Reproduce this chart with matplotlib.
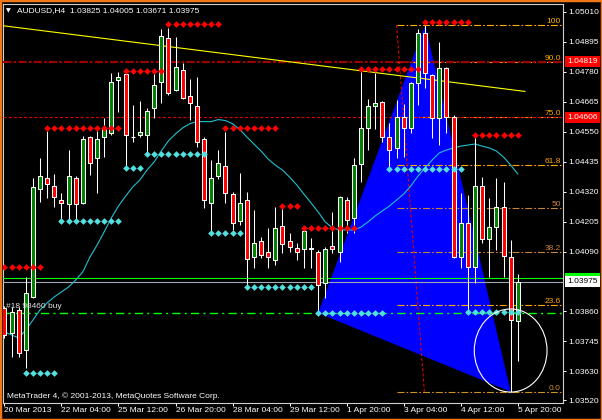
import matplotlib
matplotlib.use("Agg")
import matplotlib.pyplot as plt
from matplotlib.patches import Rectangle, Polygon, Ellipse
from matplotlib import transforms

plt.rcParams['lines.scale_dashes'] = False
FONT = ['Liberation Sans', 'DejaVu Sans']

# ---------------- data (AUDUSD H4) ----------------
OPEN = [1.03873, 1.03777, 1.03866, 1.03712, 1.03916, 1.04330, 1.04373, 1.04342, 1.04288, 1.04273,
        1.04373, 1.04277, 1.04530, 1.04449, 1.04530, 1.04546, 1.04749, 1.04772, 1.04530, 1.04538,
        1.04538, 1.04641, 1.04741, 1.04910, 1.04710, 1.04787, 1.04687, 1.04649, 1.04523, 1.04277,
        1.04380, 1.04419, 1.04311, 1.04207, 1.04288, 1.04069, 1.04131, 1.04088, 1.04058, 1.04188,
        1.04131, 1.04104, 1.04100, 1.04104, 1.04088, 1.03969, 1.04111, 1.04088, 1.04288, 1.04219,
        1.04426, 1.04565, 1.04649, 1.04664, 1.04530, 1.04488, 1.04608, 1.04565, 1.04737, 1.04929,
        1.04768, 1.04601, 1.04795, 1.04608, 1.04069, 1.04200, 1.04031, 1.04342, 1.04138, 1.04184,
        1.04261, 1.04069, 1.03825]
HIGH = [1.03881, 1.03877, 1.03877, 1.03992, 1.04373, 1.04449, 1.04553, 1.04388, 1.04315, 1.04480,
        1.04380, 1.04534, 1.04534, 1.04553, 1.04601, 1.04776, 1.04780, 1.04787, 1.04653, 1.04668,
        1.04641, 1.04776, 1.04945, 1.04949, 1.04914, 1.04814, 1.04753, 1.04760, 1.04530, 1.04442,
        1.04480, 1.04550, 1.04319, 1.04392, 1.04319, 1.04250, 1.04146, 1.04181, 1.04261, 1.04257,
        1.04162, 1.04123, 1.04184, 1.04142, 1.04096, 1.04108, 1.04242, 1.04303, 1.04300, 1.04449,
        1.04791, 1.04676, 1.04776, 1.04668, 1.04585, 1.04672, 1.04657, 1.04741, 1.04945, 1.04960,
        1.04772, 1.04895, 1.04798, 1.04615, 1.04315, 1.04307, 1.04546, 1.04376, 1.04296, 1.04373,
        1.04357, 1.04134, 1.04005]
LOW = [1.03758, 1.03685, 1.03685, 1.03643, 1.03912, 1.04280, 1.04296, 1.04261, 1.04211, 1.04211,
       1.04211, 1.04273, 1.04384, 1.04315, 1.04453, 1.04538, 1.04626, 1.04415, 1.04511, 1.04530,
       1.04469, 1.04604, 1.04661, 1.04691, 1.04707, 1.04676, 1.04597, 1.04492, 1.04257, 1.04162,
       1.04369, 1.04277, 1.04173, 1.04192, 1.03954, 1.04027, 1.04065, 1.04027, 1.04038, 1.04085,
       1.04088, 1.04058, 1.04027, 1.04027, 1.03854, 1.03912, 1.04085, 1.04050, 1.04162, 1.04162,
       1.04357, 1.04480, 1.04559, 1.04511, 1.04415, 1.04449, 1.04453, 1.04546, 1.04653, 1.04718,
       1.04526, 1.04499, 1.04546, 1.04065, 1.04027, 1.03858, 1.03969, 1.04123, 1.03992, 1.04096,
       1.03992, 1.03552, 1.03671]
CLOSE = [1.03770, 1.03858, 1.03700, 1.03931, 1.04338, 1.04380, 1.04350, 1.04300, 1.04277, 1.04380,
         1.04273, 1.04523, 1.04430, 1.04523, 1.04559, 1.04741, 1.04760, 1.04538, 1.04528, 1.04550,
         1.04630, 1.04730, 1.04918, 1.04699, 1.04798, 1.04680, 1.04661, 1.04511, 1.04288, 1.04373,
         1.04430, 1.04315, 1.04200, 1.04277, 1.04062, 1.04123, 1.04077, 1.04069, 1.04181, 1.04119,
         1.04108, 1.04088, 1.04169, 1.04100, 1.03962, 1.04100, 1.04100, 1.04300, 1.04211, 1.04422,
         1.04565, 1.04649, 1.04661, 1.04530, 1.04480, 1.04608, 1.04565, 1.04737, 1.04929, 1.04776,
         1.04604, 1.04795, 1.04608, 1.04069, 1.04200, 1.04031, 1.04342, 1.04138, 1.04184, 1.04261,
         1.04073, 1.03827, 1.03975]
MA = [1.03781, 1.03770, 1.03758, 1.03789, 1.03827, 1.03866, 1.03893, 1.03916, 1.03935, 1.03954,
      1.03981, 1.04012, 1.04069, 1.04115, 1.04166, 1.04219, 1.04265, 1.04303, 1.04338, 1.04365,
      1.04403, 1.04434, 1.04476, 1.04515, 1.04542, 1.04565, 1.04581, 1.04589, 1.04589, 1.04589,
      1.04597, 1.04593, 1.04581, 1.04559, 1.04530, 1.04503, 1.04476, 1.04445, 1.04422, 1.04403,
      1.04376, 1.04346, 1.04311, 1.04277, 1.04242, 1.04204, 1.04181, 1.04173, 1.04173, 1.04173,
      1.04184, 1.04204, 1.04227, 1.04246, 1.04265, 1.04288, 1.04311, 1.04342, 1.04380, 1.04411,
      1.04442, 1.04469, 1.04480, 1.04488, 1.04495, 1.04499, 1.04503, 1.04495, 1.04488, 1.04476,
      1.04453, 1.04422, 1.04388]

# resistance (red) and support (cyan) dot rows: first bar, last bar, level
RED_FROM = [0, 6, 17, 23, 31, 39, 42, 50, 59, 66]
RED_TO = [5, 16, 22, 30, 38, 41, 49, 58, 65, 72]
RED_LEVEL = [1.04031, 1.04565, 1.04783, 1.04964, 1.04565, 1.04265, 1.04181, 1.04791, 1.04972, 1.04538]
CYAN_FROM = [3, 8, 17, 20, 29, 34, 44, 54, 65]
CYAN_TO = [7, 16, 19, 28, 33, 43, 53, 64, 72]
CYAN_LEVEL = [1.03625, 1.04207, 1.04411, 1.04465, 1.04162, 1.03954, 1.03854, 1.04407, 1.03858]

DATE_TICKS = [0, 8, 16, 24, 32, 40, 48, 56, 64, 72]
DATE_LABELS = ['20 Mar 2013', '22 Mar 04:00', '25 Mar 12:00', '26 Mar 20:00', '28 Mar 04:00',
               '29 Mar 12:00', '1 Apr 20:00', '3 Apr 04:00', '4 Apr 12:00', '5 Apr 20:00']
PRICE_TICKS = [1.05010, 1.04895, 1.04780, 1.04665, 1.04550, 1.04435, 1.04320, 1.04205,
               1.04090, 1.03860, 1.03745, 1.03630, 1.03520]

FIB_BARS = [55.0, 58.9]
FIB_HIGH = 1.04960
FIB_LOW = 1.03552
FIB_LEVELS = [0.0, 23.6, 38.2, 50.0, 61.8, 75.0, 90.0, 100.0]
FIB_TEXT = ['0.0', '23.6', '38.2', '50', '61.8', '75.0', '90.0', '100']
FIB_COLORS = ['#D09020', '#FFA500', '#C8843C', '#C8843C', '#FFA500', '#FFA500', '#FFA500', '#FFB000']

TREND_BARS = [-1.0, 73.0]
TREND_PRICES = [1.04960, 1.04705]
TRIANGLE_BARS = [44, 59, 71]
TRIANGLE_PRICES = [1.03854, 1.04960, 1.03552]
ELLIPSE_BAR, ELLIPSE_PRICE, ELLIPSE_W, ELLIPSE_H = 71.0, 1.03710, 10.2, 0.00319

LEVEL_DARKRED = 1.04819
LEVEL_RED = 1.04606
LEVEL_GREEN = 1.03990
LEVEL_BID = 1.03975
LEVEL_ORDER = 1.03855

HEADER = 'AUDUSD,H4  1.03825 1.04005 1.03671 1.03975'
ORDER_TEXT = '#18 98460 buy'
FOOTER = 'MetaTrader 4, \u00a9 2001-2013, MetaQuotes Software Corp.'

# ---------------- figure ----------------
W, H = 602, 420
fig = plt.figure(figsize=(W / 100, H / 100), dpi=100, facecolor='black')
ax = fig.add_axes([3 / W, 17 / H, 560 / W, 399.5 / H], facecolor='black')
XMIN, XMAX = -0.196, 78.34
ax.set_xlim(XMIN, XMAX)
ax.set_ylim(1.035085, 1.050426)
for s in ax.spines.values():
    s.set_color('#D0D0D0')
    s.set_linewidth(0.8)

blend = transforms.blended_transform_factory(ax.transAxes, ax.transData)

# blue triangle (background object)
ax.add_patch(Polygon(list(zip(TRIANGLE_BARS, TRIANGLE_PRICES)), closed=True,
                     facecolor='#0000FF', edgecolor='none', zorder=1))

# fibonacci levels
rng = FIB_HIGH - FIB_LOW
for lev, txt, col in zip(FIB_LEVELS, FIB_TEXT, FIB_COLORS):
    p = FIB_LOW + rng * lev / 100.0
    ax.hlines(p, min(FIB_BARS), XMAX, colors=col, linewidth=0.8,
              linestyles=[(0, (5, 1.5, 1.2, 1.5))], zorder=2)
    ax.text(0.9964, p, txt, transform=blend, ha='right', va='bottom', color=col,
            fontsize=6, family=FONT, zorder=7)
ax.plot(FIB_BARS, [FIB_HIGH, FIB_LOW], color='#E00000', linewidth=0.8,
        linestyle=(0, (2.2, 1.5)), zorder=3)

# horizontal lines
ax.axhline(LEVEL_DARKRED, color='#A00000', linewidth=1.5, linestyle=(0, (6, 1.5, 2, 1.5)), zorder=3)
ax.axhline(LEVEL_RED, color='#E00000', linewidth=0.8, linestyle=(0, (2.2, 1.5)), zorder=3)
ax.axhline(LEVEL_GREEN, color='#00FF00', linewidth=0.8, zorder=3)
ax.axhline(LEVEL_BID, color='#A0A8B8', linewidth=0.8, zorder=3)
ax.axhline(LEVEL_ORDER, color='#00FF00', linewidth=1.0, linestyle=(0, (6, 3, 1.5, 3)), zorder=3)
ax.text(3.5 / 560, LEVEL_ORDER + 0.00012, ORDER_TEXT, transform=blend, ha='left', va='bottom',
        color='#E0E0E0', fontsize=6, family=FONT, zorder=7)

# trend line and moving average
ax.plot(TREND_BARS, TREND_PRICES, color='#FFFF00', linewidth=0.8, zorder=3)
bars = list(range(len(OPEN)))
ax.plot(bars, MA, color='#20C0D0', linewidth=0.8, zorder=3)

# candles
BW = 0.56
for i in bars:
    o, h, l, c = OPEN[i], HIGH[i], LOW[i], CLOSE[i]
    ax.vlines(i, l, h, colors='white', linewidth=0.75, zorder=4)
    if abs(c - o) < 0.00003:
        ax.hlines(o, i - BW / 2, i + BW / 2, colors='white', linewidth=0.8, zorder=5)
    else:
        fc = '#008000' if c > o else '#FF0000'
        ax.add_patch(Rectangle((i - BW / 2, min(o, c)), BW, abs(c - o), facecolor=fc,
                               edgecolor='white', linewidth=0.75, zorder=5))

# dots
for a, b, lev in zip(RED_FROM, RED_TO, RED_LEVEL):
    xs = list(range(a, b + 1))
    ax.plot(xs, [lev] * len(xs), linestyle='none', marker='D', markersize=3.4,
            color='#FF0000', markeredgewidth=0, zorder=6)
for a, b, lev in zip(CYAN_FROM, CYAN_TO, CYAN_LEVEL):
    xs = list(range(a, b + 1))
    ax.plot(xs, [lev] * len(xs), linestyle='none', marker='D', markersize=3.4,
            color='#50E0E0', markeredgewidth=0, zorder=6)

ax.add_patch(Ellipse((ELLIPSE_BAR, ELLIPSE_PRICE), ELLIPSE_W, ELLIPSE_H, fill=False,
                     edgecolor='white', linewidth=0.8, zorder=7))

# axes ticks
ax.yaxis.tick_right()
ax.set_yticks(PRICE_TICKS)
ax.set_yticklabels(['%.5f' % p for p in PRICE_TICKS])
ax.set_xticks(DATE_TICKS)
ax.set_xticklabels(DATE_LABELS, ha='left')
ax.tick_params(axis='y', colors='white', length=2.2, width=0.7, pad=2.0, labelsize=6)
ax.tick_params(axis='x', colors='white', length=2.2, width=0.7, pad=0.8, labelsize=6)
for lab in ax.get_xticklabels() + ax.get_yticklabels():
    lab.set_family(FONT)
    lab.set_color('white')

# price boxes on the scale
def price_box(price, fc, tc):
    ax.text(1.00714, price, '%.5f' % price, transform=blend, ha='left', va='center',
            color=tc, fontsize=6, family=FONT, clip_on=False, zorder=10,
            bbox=dict(boxstyle='square,pad=0.25', facecolor=fc, edgecolor='none'))

price_box(LEVEL_DARKRED, '#FF0000', 'white')
price_box(LEVEL_RED, '#FF0000', 'white')
# green price marker mostly hidden behind the bid box
ax.add_patch(Rectangle((562 / 560, LEVEL_GREEN - 0.00014), 35 / 560, 0.00032, transform=blend,
                       facecolor='#00FF00', edgecolor='none', clip_on=False, zorder=9))
price_box(LEVEL_BID, 'white', 'black')

# header / footer
fig.text(6 / W, 1 - 11 / H, '\u25BC', color='white', fontsize=4.5, family=['DejaVu Sans'],
         ha='left', va='center')
fig.text(17 / W, 1 - 11 / H, HEADER, color='white', fontsize=6, family=FONT, ha='left', va='center')
fig.text(7 / W, 1 - 396 / H, FOOTER, color='white', fontsize=6, family=FONT, ha='left', va='center')

# orange window frame
fig.patches.append(Rectangle((0, 0), 1, 1, transform=fig.transFigure, fill=False,
                             edgecolor='#F07818', linewidth=2.5, zorder=20))

fig.savefig('out.png', dpi=100, facecolor='black')
